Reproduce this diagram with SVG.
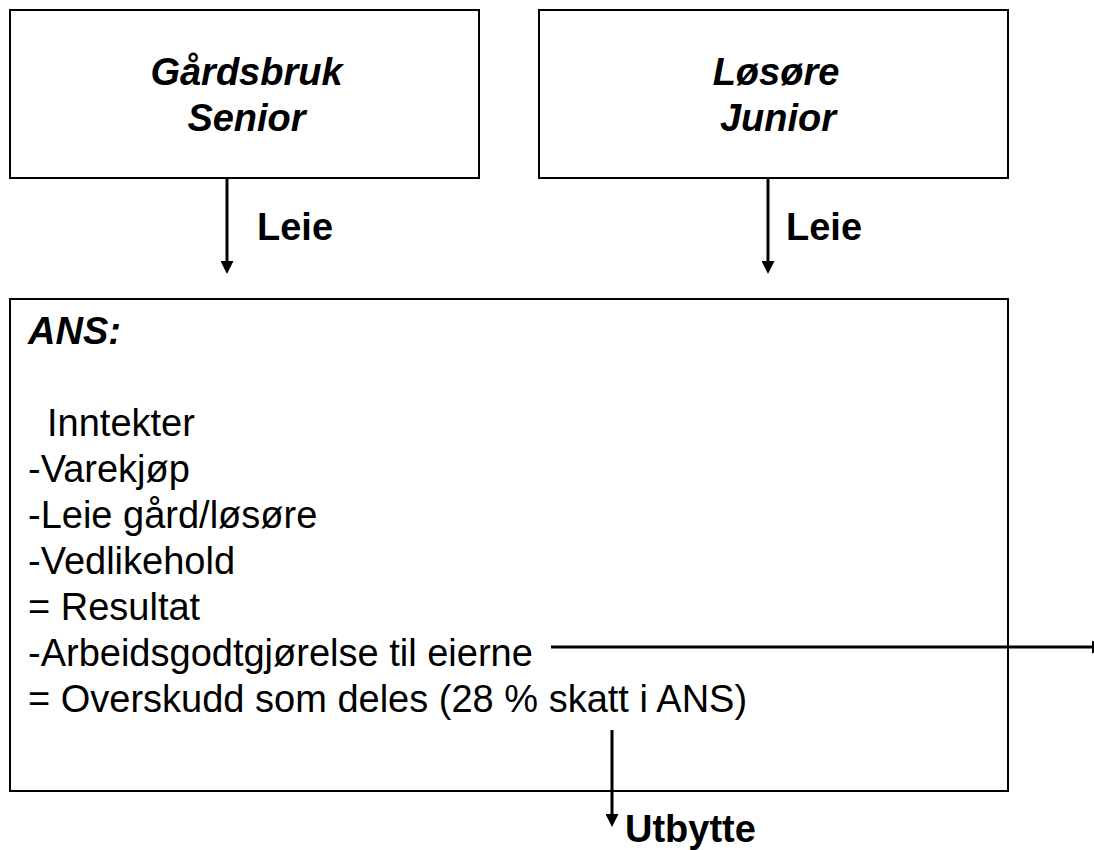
<svg xmlns="http://www.w3.org/2000/svg" width="1094" height="850" viewBox="0 0 1094 850">
<style>
.box{fill:#fff;stroke:#000;stroke-width:2}
.t{font-family:"Liberation Sans",Arial,sans-serif;font-size:38px;fill:#000}
.bi{font-weight:bold;font-style:italic}
.b{font-weight:bold}
.c{stroke:#000;stroke-width:3;fill:none}
</style>
<defs>
<marker id="ah" markerUnits="userSpaceOnUse" viewBox="0 0 13 13" refX="0" refY="6.5" markerWidth="13" markerHeight="13" orient="auto">
<path d="M0,0 L13,6.5 L0,13 z" fill="#000"/>
</marker>
</defs>
<rect width="1094" height="850" fill="#fff"/>
<g id="gardsbruk">
<rect class="box" x="10" y="10" width="469" height="168"/>
<text class="t bi" x="246.5" y="85" text-anchor="middle">Gårdsbruk</text>
<text class="t bi" x="246.5" y="131" text-anchor="middle">Senior</text>
</g>
<g id="losore">
<rect class="box" x="539" y="10" width="469" height="168"/>
<text class="t bi" x="776" y="85" text-anchor="middle">Løsøre</text>
<text class="t bi" x="778" y="131" text-anchor="middle">Junior</text>
</g>
<g id="ans">
<rect class="box" x="10" y="299" width="998" height="492"/>
<text class="t bi" x="28" y="344">ANS:</text>
<text class="t" x="47" y="436">Inntekter</text>
<text class="t" x="28" y="482">-Varekjøp</text>
<text class="t" x="28" y="528">-Leie gård/løsøre</text>
<text class="t" x="28" y="574">-Vedlikehold</text>
<text class="t" x="28" y="620">= Resultat</text>
<text class="t" x="28" y="666">-Arbeidsgodtgjørelse til eierne</text>
<text class="t" x="28" y="712">= Overskudd som deles (28 % skatt i ANS)</text>
</g>
<g id="connectors">
<line class="c" x1="227" y1="178" x2="227" y2="261" marker-end="url(#ah)"/>
<line class="c" x1="768" y1="178" x2="768" y2="261" marker-end="url(#ah)"/>
<line class="c" x1="551" y1="647" x2="1092" y2="647" marker-end="url(#ah)"/>
<line class="c" x1="612" y1="730" x2="612" y2="814" marker-end="url(#ah)"/>
<text class="t b" x="257" y="240">Leie</text>
<text class="t b" x="786" y="240">Leie</text>
<text class="t b" x="625" y="842">Utbytte</text>
</g>
</svg>
